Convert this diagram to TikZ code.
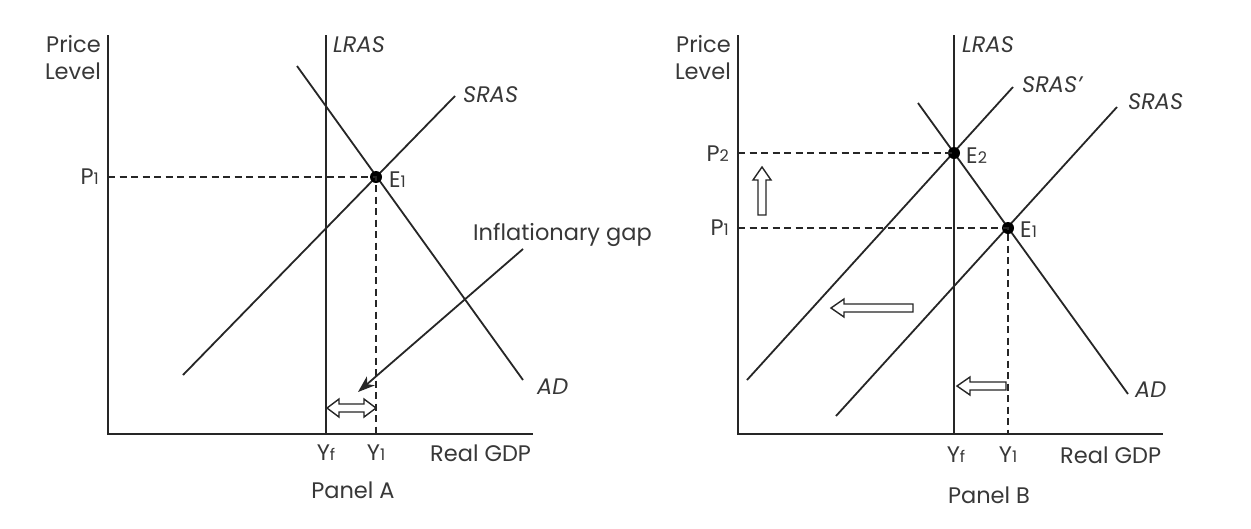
\documentclass[tikz,border=0pt]{standalone}
\usepackage{fontspec}
\setmainfont{Poppins}
\usetikzlibrary{arrows.meta}
\newcommand{\lsub}[1]{{\fontsize{16}{16}\selectfont #1}}
\begin{document}
\begin{tikzpicture}[x=1pt,y=-1pt,
  every node/.style={font=\fontsize{22.5}{27}\selectfont, inner sep=0pt, text=black!78},
  axis/.style={line width=2.5pt, draw=black!85},
  curve/.style={line width=1.8pt, draw=black!85},
  guide/.style={line width=2.1pt, dash pattern=on 7pt off 4.5pt, draw=black!85},
  openarrow/.style={draw=black!85, line width=1.4pt, fill=white, line join=miter},
  dot/.style={circle, fill=black, minimum size=12pt, inner sep=0pt},
  lab/.style={font=\fontsize{22.5}{27}\selectfont\itshape}]
\useasboundingbox (0,0) rectangle (1251,528);
\fill[white] (0,0) rectangle (1251,528);

% ---------------- Panel A ----------------
\coordinate (Ao) at (108,434);
\coordinate (Atop) at (108,35);
\coordinate (Aend) at (533,434);
\coordinate (Alt) at (326,35);
\coordinate (Alb) at (326,434);
\coordinate (Ad1) at (297,66);
\coordinate (Ad2) at (523,380);
\coordinate (As1) at (183,375);
\coordinate (As2) at (455,96);
\coordinate (AP1) at (108,177);
\coordinate (AY1) at (376,434);
\coordinate (Ag1) at (523,249);
\coordinate (Ag2) at (358,392);

\draw[axis] (Atop) -- (Ao) -- (Aend);
\draw[curve] (Alt) -- (Alb);
\draw[curve] (Ad1) -- (Ad2);
\draw[curve] (As1) -- (As2);
\node[dot] (AE1) at (376,177) {};
\draw[guide] (AP1) -- (AE1.center) -- (AY1);
\draw[line width=1.8pt, draw=black!85, -{Stealth[length=17pt,width=12pt,inset=5pt]}] (Ag1) -- (Ag2);
\draw[openarrow] (327,408) -- (339,399) -- (339,404) -- (364,404) -- (364,399) -- (376,408)
  -- (364,417) -- (364,412) -- (339,412) -- (339,417) -- cycle;

\node[anchor=east, align=right] (Aprice) at (101,58) {Price\\Level};
\node[anchor=east] (AP1l) at (99,177) {P\lsub{1}};
\node[lab, anchor=west] (Alras) at (333,45) {LRAS};
\node[lab, anchor=west] (Asras) at (463,95) {SRAS};
\node[lab, anchor=west] (Aad) at (537,387) {AD};
\node[anchor=west] (AE1l) at (389,180) {E\lsub{1}};
\node[anchor=west] (Agap) at (473,235) {Inflationary gap};
\node (AYf) at (326,453) {Y\lsub{f}};
\node (AY1l) at (376,453) {Y\lsub{1}};
\node[anchor=west] (Agdp) at (430,453) {Real GDP};
\node (Apanel) at (353,490) {Panel A};

% ---------------- Panel B ----------------
\coordinate (Bo) at (738,434);
\coordinate (Btop) at (738,35);
\coordinate (Bend) at (1163,434);
\coordinate (Blt) at (954,35);
\coordinate (Blb) at (954,434);
\coordinate (Bd1) at (918,103);
\coordinate (Bd2) at (1128,394);
\coordinate (Bs1) at (747,380);
\coordinate (Bs2) at (1013,87);
\coordinate (Bt1) at (836,416);
\coordinate (Bt2) at (1117,107);
\coordinate (BP2) at (738,153);
\coordinate (BP1) at (738,228);
\coordinate (BY1) at (1008,434);

\draw[axis] (Btop) -- (Bo) -- (Bend);
\draw[curve] (Blt) -- (Blb);
\draw[curve] (Bd1) -- (Bd2);
\draw[curve] (Bs1) -- (Bs2);
\draw[curve] (Bt1) -- (Bt2);
\node[dot] (BE2) at (954,153) {};
\node[dot] (BE1) at (1008,228) {};
\draw[guide] (BP2) -- (BE2.center);
\draw[guide] (BP1) -- (BE1.center) -- (BY1);

\draw[openarrow] (758,215) -- (758,180) -- (753,180) -- (762,167) -- (771,180) -- (766,180) -- (766,215) -- cycle;
\draw[openarrow] (913,304) -- (844,304) -- (844,299) -- (831,308) -- (844,317) -- (844,312) -- (913,312) -- cycle;
\draw[openarrow] (1006,382) -- (970,382) -- (970,377) -- (957,386) -- (970,395) -- (970,390) -- (1006,390) -- cycle;

\node[anchor=east, align=right] (Bprice) at (731,58) {Price\\Level};
\node[anchor=east] (BP2l) at (729,154) {P\lsub{2}};
\node[anchor=east] (BP1l) at (729,228) {P\lsub{1}};
\node[lab, anchor=west] (Blras) at (962,45) {LRAS};
\node[lab, anchor=west] (Bsrasp) at (1022,85) {SRAS'};
\node[lab, anchor=west] (Bsras) at (1128,102) {SRAS};
\node[lab, anchor=west] (Bad) at (1135,390) {AD};
\node[anchor=west] (BE2l) at (966,156) {E\lsub{2}};
\node[anchor=west] (BE1l) at (1020,230) {E\lsub{1}};
\node (BYf) at (956,455) {Y\lsub{f}};
\node (BY1l) at (1008,455) {Y\lsub{1}};
\node[anchor=west] (Bgdp) at (1060,455) {Real GDP};
\node (Bpanel) at (989,495) {Panel B};
\end{tikzpicture}
\end{document}
